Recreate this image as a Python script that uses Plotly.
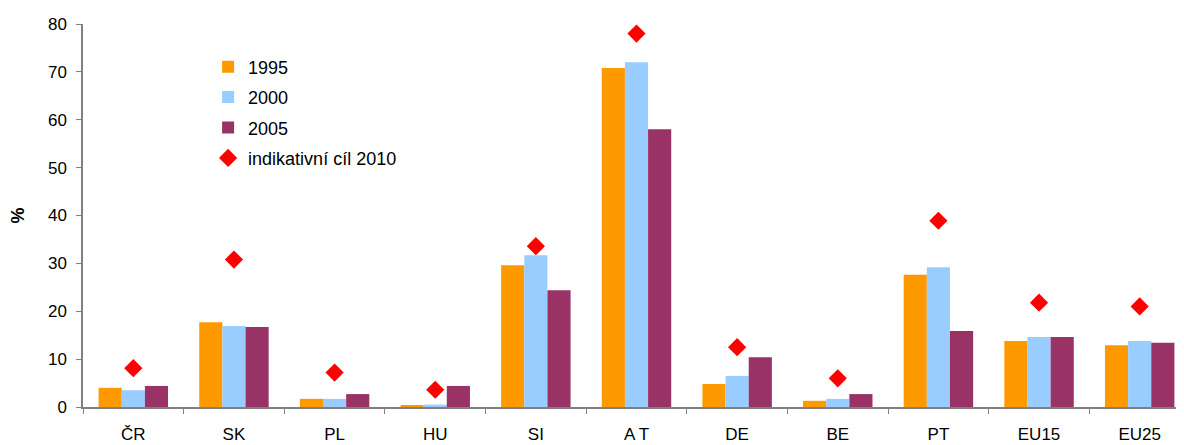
import plotly.graph_objects as go

categories = ["ČR", "SK", "PL", "HU", "SI", "AT", "DE", "BE", "PT", "EU15", "EU25"]
v1995 = [4.0, 17.7, 1.7, 0.4, 29.6, 70.8, 4.8, 1.3, 27.6, 13.8, 12.9]
v2000 = [3.5, 16.9, 1.7, 0.5, 31.7, 72.0, 6.5, 1.7, 29.2, 14.6, 13.8]
v2005 = [4.4, 16.7, 2.7, 4.4, 24.4, 58.0, 10.4, 2.7, 15.9, 14.6, 13.4]
target2010 = [8.1, 30.8, 7.2, 3.6, 33.6, 78.0, 12.5, 6.0, 38.9, 21.8, 21.0]
tick_labels = ["ČR", "SK", "PL", "HU", "SI", "A T", "DE", "BE", "PT", "EU15", "EU25"]
y_ticks = [0, 10, 20, 30, 40, 50, 60, 70, 80]

font_family = "Arial, Liberation Sans, sans-serif"

fig = go.Figure()
fig.add_trace(go.Bar(x=categories, y=v1995, name="1995", marker_color="#FF9900",
                     marker_line_width=0, legendgroup="a"))
fig.add_trace(go.Bar(x=categories, y=v2000, name="2000", marker_color="#99CCFF",
                     marker_line_width=0, legendgroup="b"))
fig.add_trace(go.Bar(x=categories, y=v2005, name="2005", marker_color="#993366",
                     marker_line_width=0, legendgroup="c"))
fig.add_trace(go.Scatter(x=categories, y=target2010, name="indikativní cíl 2010",
                         mode="markers", legendgroup="d",
                         marker=dict(symbol="diamond", size=14, color="#FF0000")))

fig.update_layout(
    width=1182, height=437,
    margin=dict(l=75, r=0, t=16, b=38),
    paper_bgcolor="white", plot_bgcolor="white",
    font=dict(family=font_family, size=17, color="#000000"),
    barmode="group", bargap=0.31, bargroupgap=0,
    showlegend=True,
    legend=dict(x=0.113, y=0.936, xanchor="left", yanchor="top",
                font=dict(size=18), tracegroupgap=4,
                bgcolor="rgba(0,0,0,0)", itemwidth=30),
    xaxis=dict(type="category", tickmode="array", tickvals=categories,
               ticktext=tick_labels, tickson="boundaries", ticks="outside",
               range=[-0.5, 10.5],
               ticklen=5, tickcolor="#808080", showline=True, linecolor="#808080",
               linewidth=1.5, showgrid=False, ticklabelstandoff=11,
               automargin=False),
    yaxis=dict(range=[0, 80], tickvals=y_ticks, ticks="outside", ticklen=5,
               tickcolor="#808080", showline=True, linecolor="#808080", linewidth=1.5,
               showgrid=False, zeroline=False, ticklabelstandoff=6,
               automargin=False,
               title=dict(text="<b>%</b>", font=dict(size=18), standoff=25)),
)

fig.write_html("out.html")
